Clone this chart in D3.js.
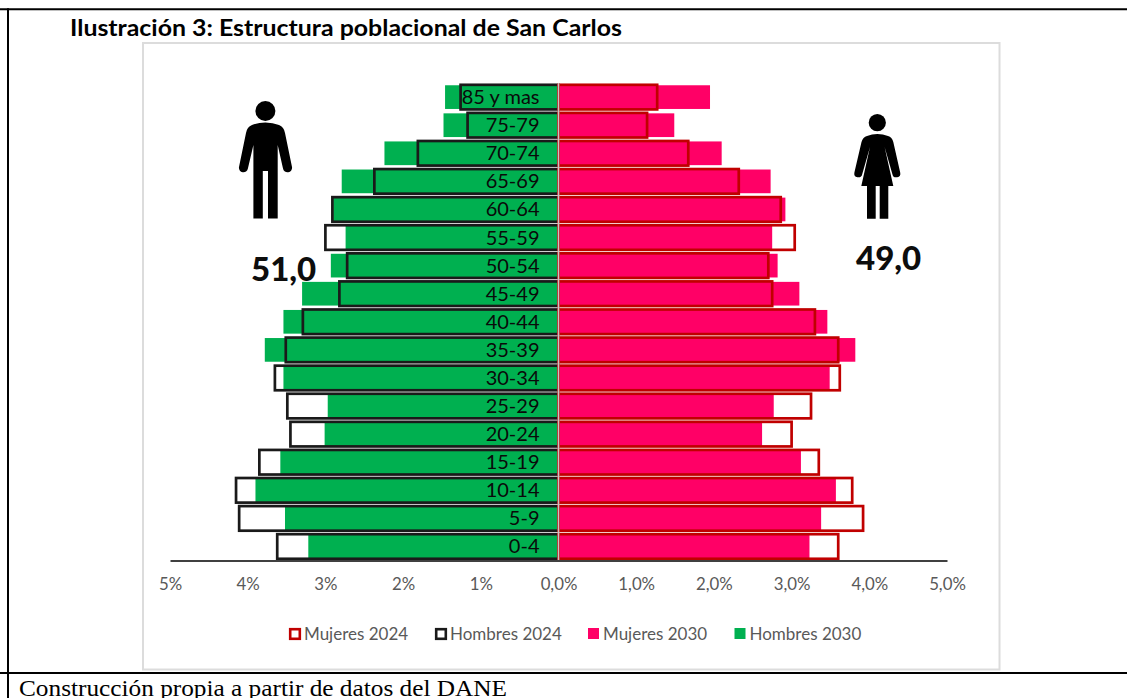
<!DOCTYPE html>
<html><head><meta charset="utf-8">
<script src="https://cdn.jsdelivr.net/npm/d3@7"></script>
<style>html,body{margin:0;padding:0;background:#fff;overflow:hidden}svg{display:block}</style>
</head><body><svg id="c" width="1127" height="698"></svg>
<script>
const ageGroups = ["85 y mas","75-79","70-74","65-69","60-64","55-59","50-54","45-49","40-44","35-39","30-34","25-29","20-24","15-19","10-14","5-9","0-4"];
const hombres2030 = [1.46,1.48,2.24,2.79,2.90,2.74,2.93,3.30,3.54,3.78,3.54,2.97,3.01,3.58,3.90,3.52,3.22];
const mujeres2030 = [1.95,1.49,2.10,2.73,2.92,2.75,2.82,3.10,3.46,3.82,3.49,2.77,2.62,3.12,3.57,3.38,3.23];
const hombres2024 = [1.26,1.17,1.81,2.37,2.91,3.00,2.72,2.82,3.29,3.51,3.65,3.49,3.45,3.85,4.15,4.11,3.62];
const mujeres2024 = [1.27,1.14,1.67,2.32,2.86,3.04,2.70,2.75,3.30,3.60,3.62,3.25,3.00,3.35,3.78,3.92,3.60];
const tickValues = [-5,-4,-3,-2,-1,0,1,2,3,4,5];
const legendLabels = ["Mujeres 2024","Hombres 2024","Mujeres 2030","Hombres 2030"];
const titleText = "Ilustración 3: Estructura poblacional de San Carlos";
const sourceText = "Construcción propia a partir de datos del DANE";
const totalHombres = "51,0", totalMujeres = "49,0";

const sans = "Lato, 'Open Sans', sans-serif";
const svg = d3.select("#c");
const x = d3.scaleLinear().domain([-5,5]).range([170,947]);
const y = d3.scaleBand().domain(ageGroups).range([83,560.6]).paddingInner(0.155).paddingOuter(0.08);
const x0 = x(0);

// document table rules
const rule = (a,b,c,d,w)=>svg.append("line").attr("x1",a).attr("y1",b).attr("x2",c).attr("y2",d).attr("stroke","#000").attr("stroke-width",w);
rule(0,9.3,1127,9.3,2); rule(0,673,1127,673,2); rule(8,8.3,8,698,2);

svg.append("text").attr("x",70).attr("y",36).attr("font-family",sans).attr("font-weight",700)
  .attr("font-size",22).attr("textLength",552).attr("lengthAdjust","spacingAndGlyphs").attr("fill","#000").text(titleText);
svg.append("text").attr("x",19).attr("y",696).attr("font-family","'Liberation Serif',serif")
  .attr("font-size",23).attr("textLength",488).attr("lengthAdjust","spacingAndGlyphs").attr("fill","#000").text(sourceText);

// chart frame
svg.append("rect").attr("x",143).attr("y",43).attr("width",856.5).attr("height",626.5)
  .attr("fill","#fff").attr("stroke","#dcdcdc").attr("stroke-width",2);

// filled 2030 bars
const fillBars=(vals,sign,col)=>svg.append("g").selectAll("rect").data(ageGroups).join("rect")
  .attr("x",(d,i)=>sign<0?x(-vals[i]):x0+1)
  .attr("width",(d,i)=>sign<0?x0-1-x(-vals[i]):x(vals[i])-x0-1)
  .attr("y",d=>y(d)+(y.bandwidth()-23.7)/2).attr("height",23.7).attr("fill",col);
fillBars(hombres2030,-1,"#00b050");
fillBars(mujeres2030,1,"#ff0066");

// outlined 2024 bars
const lineBars=(vals,sign,col)=>svg.append("g").selectAll("rect").data(ageGroups).join("rect")
  .attr("x",(d,i)=>sign<0?x(-vals[i]):x0)
  .attr("width",(d,i)=>Math.abs(x(vals[i])-x0))
  .attr("y",d=>y(d)+(y.bandwidth()-24.6)/2).attr("height",24.6)
  .attr("fill","none").attr("stroke",col).attr("stroke-width",2.7);
lineBars(hombres2024,-1,"#1a1a1a");
lineBars(mujeres2024,1,"#c00000");

// centre line
svg.append("line").attr("x1",x0).attr("x2",x0).attr("y1",83).attr("y2",561)
  .attr("stroke","#c9c4c4").attr("stroke-width",1.6);

// axis
const axis = svg.append("g").attr("transform","translate(0,560.6)")
  .call(d3.axisBottom(x).tickValues(tickValues).tickSize(0).tickPadding(17)
    .tickFormat(v=>v<0?Math.abs(v)+"%":d3.format(".1f")(v).replace(".",",")+"%"));
axis.select(".domain").attr("stroke","#404040").attr("stroke-width",2);
axis.selectAll("text").attr("font-family",sans).attr("font-size",16.8).attr("fill","#595959");

// age labels
svg.append("g").selectAll("text").data(ageGroups).join("text")
  .attr("x",539.5).attr("y",d=>y(d)+y.bandwidth()/2+7).attr("text-anchor","end")
  .attr("font-family",sans).attr("font-size",20).attr("fill","#0a0a0a").text(d=>d);

// totals
const big=(t,a,b)=>svg.append("text").attr("x",a).attr("y",b).attr("font-family",sans).attr("font-weight",900).attr("font-size",33).attr("fill","#0d0d0d").text(t);
big(totalHombres,251,281); big(totalMujeres,856,270);

// pictograms
svg.append("circle").attr("cx",265.4).attr("cy",111).attr("r",10).attr("fill","#000");
svg.append("path").attr("fill","#000").attr("d","M253.4 218.5V145L247.9 168.6A4.5 4.5 0 0 1 239 167L246 133Q247 127 252 125Q258 122.5 265.4 122.5Q273 122.5 279 125Q284 127 285 133L292 167A4.5 4.5 0 0 1 283 168.6L277.7 145V218.5H268V171H262.8V218.5Z");
svg.append("circle").attr("cx",877.3).attr("cy",122.7).attr("r",8.6).attr("fill","#000");
svg.append("path").attr("fill","#000").attr("d","M867 218.7V186H861.3L870 147L862.2 174.2A4 4 0 0 1 854.4 172.4L861.5 142Q863 137 867 136Q872 134 877.3 134Q883 134 888 136Q892 137 893.3 142L900.2 172.4A4 4 0 0 1 892.4 174.2L884.6 147L893.3 186H888.3V218.7H879.7V186H875.7V218.7Z");

// legend
const legX=[289,435,588,734.5];
const legStyle=[["#fff","#c00000"],["#fff","#1a1a1a"],["#ff0066",null],["#00b050",null]];
const lg=svg.append("g").selectAll("g").data(legendLabels).join("g").attr("transform",(d,i)=>`translate(${legX[i]},628)`);
lg.append("rect").attr("x",(d,i)=>legStyle[i][1]?1.2:0).attr("y",(d,i)=>legStyle[i][1]?1.2:0)
  .attr("width",(d,i)=>legStyle[i][1]?9.6:11).attr("height",(d,i)=>legStyle[i][1]?9.6:11)
  .attr("fill",(d,i)=>legStyle[i][0]).attr("stroke",(d,i)=>legStyle[i][1]||"none").attr("stroke-width",2.6);
lg.append("text").attr("x",15).attr("y",12).attr("font-family",sans).attr("font-size",17).attr("fill","#595959").text(d=>d);
</script></body></html>
